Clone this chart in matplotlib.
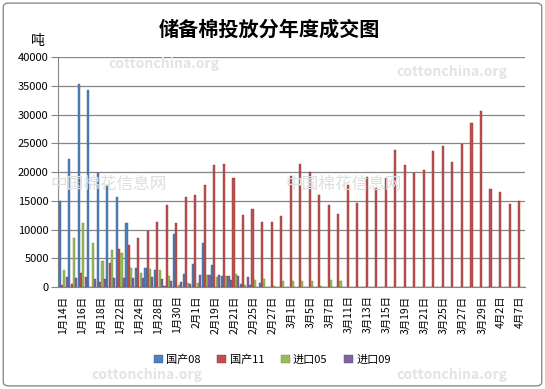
import matplotlib
matplotlib.use("Agg")
import matplotlib.pyplot as plt
import numpy as np
from matplotlib.patches import FancyBboxPatch

plt.rcParams['font.family'] = ['Noto Sans CJK SC', 'DejaVu Sans']

dates = ["1月14日", "1月15日", "1月16日", "1月17日", "1月18日", "1月21日", "1月22日",
         "1月23日", "1月24日", "1月25日", "1月28日", "1月29日", "1月30日", "1月31日",
         "2月1日", "2月18日", "2月19日", "2月20日", "2月21日", "2月22日", "2月25日",
         "2月26日", "2月27日", "2月28日", "3月1日", "3月4日", "3月5日", "3月6日",
         "3月7日", "3月8日", "3月11日", "3月12日", "3月13日", "3月14日", "3月15日",
         "3月18日", "3月19日", "3月20日", "3月21日", "3月22日", "3月25日", "3月26日",
         "3月27日", "3月28日", "3月29日", "4月1日", "4月2日", "4月3日", "4月7日"]

guochan08 = [15000, 22300, 35300, 34300, 19900, 17800, 15600, 11200, 3300, 3400,
             2900, 200, 9200, 2200, 4100, 7600, 3800, 1900, 1200, 600,
             400, 700, 0, 0, 0, 0, 0, 0, 0, 0,
             0, 0, 0, 0, 0, 0, 0, 0, 0, 0,
             0, 0, 0, 0, 0, 0, 0, 0, 0]
guochan11 = [300, 600, 2400, 0, 800, 4200, 6600, 7300, 8500, 9700,
             11400, 14300, 11200, 15600, 16100, 17700, 21300, 21500, 19000, 12500,
             13500, 11400, 11400, 12400, 19400, 21500, 20100, 16100, 14300, 12800,
             17700, 14600, 19200, 17300, 18900, 23800, 21200, 19800, 20300, 23600,
             24600, 21700, 24900, 28500, 30600, 17100, 16600, 14500, 15000]
jinkou05 = [2900, 8500, 11100, 7600, 4500, 6500, 5900, 3300, 2500, 3100,
            2900, 2000, 400, 700, 700, 2100, 1750, 2000, 2200, 350,
            1200, 1400, 200, 1000, 1000, 1000, 1000, 200, 1200, 1100,
            0, 0, 0, 0, 0, 0, 0, 0, 0, 0,
            0, 0, 0, 0, 0, 0, 0, 0, 0]
jinkou09 = [1750, 1500, 1700, 1400, 1400, 1500, 1500, 1500, 1600, 1750,
            1400, 1000, 900, 500, 2100, 2100, 2100, 1900, 1900, 1750,
            0, 0, 0, 0, 0, 0, 0, 0, 0, 0,
            0, 0, 0, 0, 0, 0, 0, 0, 0, 0,
            0, 0, 0, 0, 0, 0, 0, 0, 0]

series = [("国产08", guochan08, "#4F81BD", "#385D8A"),
          ("国产11", guochan11, "#C0504D", "#8C3836"),
          ("进口05", jinkou05, "#9BBB59", "#71893F"),
          ("进口09", jinkou09, "#8064A2", "#5C4776")]

fig = plt.figure(figsize=(5.45, 3.89), dpi=100)
fig.patches.append(FancyBboxPatch((0.006, 0.008), 0.988, 0.984, boxstyle="round,pad=0,rounding_size=0.01",
                                  transform=fig.transFigure, fill=False, edgecolor="#8c8c8c", linewidth=1))

# faint watermarks
wm = dict(color="#e0e4e4", fontsize=10, zorder=0, fontweight="bold")
fig.text(0.30, 0.835, "cottonchina.org", ha="center", va="center", **wm)
fig.text(0.83, 0.815, "cottonchina.org", ha="center", va="center", **wm)
fig.text(0.27, 0.035, "cottonchina.org", ha="center", va="center", **wm)
fig.text(0.83, 0.035, "cottonchina.org", ha="center", va="center", **wm)
fig.text(0.20, 0.525, "中国棉花信息网", ha="center", va="center", color="#dcdfdf", fontsize=12, zorder=0)
fig.text(0.63, 0.525, "中国棉花信息网", ha="center", va="center", color="#dcdfdf", fontsize=12, zorder=0)

ax = fig.add_axes([0.1073, 0.262, 0.856, 0.591])
ax.patch.set_alpha(0)

x = np.arange(len(dates))
w = 0.22
step = 0.24
for k, (name, vals, col, edge) in enumerate(series):
    ax.bar(x + (k - 1.5) * step, vals, width=w, color=col, edgecolor=edge,
           linewidth=0.3, label=name, zorder=3)

ax.set_xlim(-0.5, len(dates) - 0.5)
ax.set_ylim(0, 40000)
ax.set_yticks(np.arange(0, 40001, 5000))
ax.yaxis.grid(True, color="#868686", linewidth=0.9, zorder=1)
ax.set_axisbelow(True)
ax.tick_params(axis="y", labelsize=8, length=5, color="#868686", pad=2)
ax.set_xticks(x[::2])
ax.set_xticklabels(dates[::2], rotation=90, fontsize=7.5)
ax.tick_params(axis="x", length=0, pad=6)

for s in ["top", "right"]:
    ax.spines[s].set_visible(False)
ax.spines["left"].set_color("#868686")
ax.spines["bottom"].set_color("#868686")

fig.text(0.495, 0.925, "储备棉投放分年度成交图", ha="center", va="center",
         fontsize=14.5, fontweight="bold")
fig.text(0.07, 0.895, "吨", ha="center", va="center", fontsize=10)

fig.legend(loc="center", bbox_to_anchor=(0.5, 0.075), ncol=4, frameon=False,
           fontsize=8, handlelength=0.8, handleheight=0.8, handletextpad=0.3,
           columnspacing=1.5)

fig.savefig("out.png", dpi=100)
